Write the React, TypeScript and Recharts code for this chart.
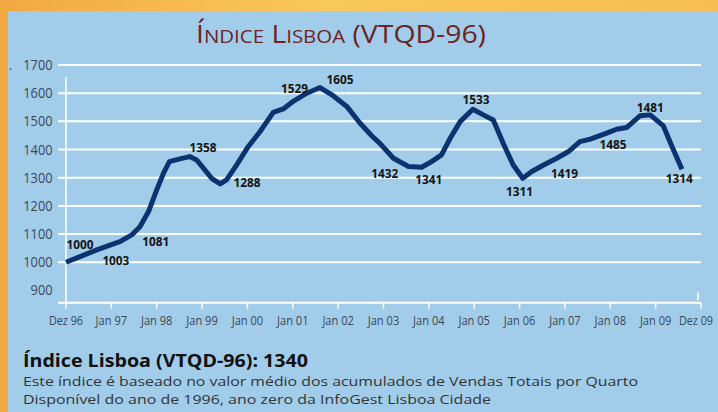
import React from "react";
import {
  ComposedChart,
  Line,
  Scatter,
  XAxis,
  YAxis,
  ReferenceLine,
} from "recharts";

// Time in years since Dez 96 (axis positions of the curve's vertices)
const period = [
  0, 0.31, 0.68, 0.97, 1.19, 1.45, 1.63, 1.82, 2.0, 2.15, 2.28, 2.51, 2.73,
  2.88, 3.03, 3.21, 3.4, 3.54, 3.76, 4.02, 4.28, 4.57, 4.79, 5.01, 5.31, 5.6,
  5.89, 6.19, 6.48, 6.74, 6.92, 7.22, 7.55, 7.84, 8.06, 8.28, 8.47, 8.69, 8.97,
  9.2, 9.42, 9.64, 9.86, 10.07, 10.27, 10.53, 10.82, 11.08, 11.33, 11.56,
  11.92, 12.14, 12.36, 12.66, 12.88, 13.17, 13.36, 13.58,
];
const indexValue = [
  1000, 1020, 1044, 1061, 1073, 1097, 1126, 1180, 1257, 1316, 1357, 1367, 1375,
  1363, 1334, 1298, 1278, 1292, 1345, 1411, 1464, 1532, 1544, 1571, 1600, 1620,
  1591, 1553, 1494, 1449, 1422, 1369, 1340, 1337, 1357, 1381, 1440, 1499, 1543,
  1523, 1505, 1422, 1345, 1298, 1322, 1345, 1369, 1393, 1428, 1437, 1458, 1472,
  1478, 1520, 1523, 1484, 1411, 1330,
];

// Annotated yearly values, with the point (period, level) where each label sits
const labelText = [
  "1000", "1003", "1081", "1358", "1288", "1529", "1605", "1432", "1341",
  "1533", "1311", "1419", "1485", "1481", "1314",
];
const labelPeriod = [
  0.31, 1.1, 1.98, 3.02, 3.99, 5.04, 6.04, 7.03, 8.0, 9.04, 10.0, 10.99, 12.06,
  12.88, 13.52,
];
const labelLevel = [
  1065, 1008, 1076, 1410, 1286, 1620, 1651, 1318, 1295, 1579, 1254, 1316, 1419,
  1550, 1298,
];

const xTickLabels = [
  "Dez 96", "Jan 97", "Jan 98", "Jan 99", "Jan 00", "Jan 01", "Jan 02",
  "Jan 03", "Jan 04", "Jan 05", "Jan 06", "Jan 07", "Jan 08", "Jan 09", "Dez 09",
];
const xTicks = xTickLabels.map((_, i) => i);
const yTicks = [900, 1000, 1100, 1200, 1300, 1400, 1500, 1600, 1700];
const gridValues = [1000, 1100, 1200, 1300, 1400, 1500, 1600, 1700];

const lineData = period.map((t, i) => ({ t, v: indexValue[i] }));
const labelData = labelPeriod.map((t, i) => ({
  t,
  v: labelLevel[i],
  text: labelText[i],
}));

const FONT = "'Open Sans', 'Noto Sans', sans-serif";
const TICK_COLOR = "#3b4756";

const LabelShape = (props: any) => {
  const { cx, cy, payload } = props;
  return (
    <text
      x={cx}
      y={cy}
      textAnchor="middle"
      dominantBaseline="central"
      fontFamily={FONT}
      fontSize={13}
      fontWeight={700}
      fill="#141414"
      textLength={27}
      lengthAdjust="spacingAndGlyphs"
    >
      {payload.text}
    </text>
  );
};

const XTick = (props: any) => {
  const { x, y, payload } = props;
  const idx = payload.value;
  const label = xTickLabels[idx] ?? "";
  const isLast = idx === xTickLabels.length - 1;
  const w = label.startsWith("Dez") ? 34 : 31.5;
  return (
    <text
      x={isLast ? x + 12 : x}
      y={y}
      dy={9.5}
      textAnchor={isLast ? "end" : "middle"}
      fontFamily={FONT}
      fontSize={13}
      fill={TICK_COLOR}
      textLength={w}
      lengthAdjust="spacingAndGlyphs"
    >
      {label}
    </text>
  );
};

const YTick = (props: any) => {
  const { x, y, payload } = props;
  const label = String(payload.value);
  return (
    <text
      x={x - 0.5}
      y={y}
      dy={5}
      textAnchor="end"
      fontFamily={FONT}
      fontSize={14.5}
      fill={TICK_COLOR}
      textLength={label.length * 7.3}
      lengthAdjust="spacingAndGlyphs"
    >
      {label}
    </text>
  );
};

export default function App() {
  return (
    <div
      style={{
        position: "fixed",
        left: 0,
        top: 0,
        width: 718,
        height: 412,
        overflow: "hidden",
      }}
    >
      <svg
        width={718}
        height={412}
        style={{ position: "absolute", left: 0, top: 0 }}
      >
        <defs>
          <linearGradient id="org" x1="0" y1="0" x2="1" y2="0">
            <stop offset="0%" stopColor="#f2a843" />
            <stop offset="45%" stopColor="#f8c95b" />
            <stop offset="100%" stopColor="#f6be52" />
          </linearGradient>
        </defs>
        <rect x={0} y={0} width={718} height={412} fill="url(#org)" />
        <rect x={8} y={11} width={710} height={401} fill="#a2cdea" />
        <text
          x={341}
          y={42.5}
          textAnchor="middle"
          fontFamily={FONT}
          fontSize={25}
          fill="#6c2323"
          textLength={290}
          lengthAdjust="spacingAndGlyphs"
          style={{ fontVariant: "small-caps" }}
        >
          Índice Lisboa (VTQD-96)
        </text>
        <text x={9} y={70} fontFamily={FONT} fontSize={12} fill="#333">
          .
        </text>
        <line x1={698} y1={292.5} x2={698} y2={300} stroke="#ffffff" strokeWidth={1.5} />
        <text
          x={23}
          y={366.5}
          fontFamily={FONT}
          fontSize={17}
          fontWeight={700}
          fill="#111"
          textLength={285}
          lengthAdjust="spacingAndGlyphs"
        >
          Índice Lisboa (VTQD-96): 1340
        </text>
        <text
          x={23}
          y={385.5}
          fontFamily={FONT}
          fontSize={13.5}
          fill="#333"
          textLength={615}
          lengthAdjust="spacingAndGlyphs"
        >
          Este índice é baseado no valor médio dos acumulados de Vendas Totais por Quarto
        </text>
        <text
          x={23}
          y={403.5}
          fontFamily={FONT}
          fontSize={13.5}
          fill="#333"
          textLength={468}
          lengthAdjust="spacingAndGlyphs"
        >
          Disponível do ano de 1996, ano zero da InfoGest Lisboa Cidade
        </text>
      </svg>
      <div style={{ position: "absolute", left: 0, top: 0 }}>
        <ComposedChart
          width={718}
          height={412}
          margin={{ top: 65, right: 17, bottom: 79.3, left: 0 }}
        >
          <XAxis
            dataKey="t"
            type="number"
            domain={[-0.176, 14]}
            allowDataOverflow
            ticks={xTicks}
            interval={0}
            height={30}
            axisLine={{ stroke: "#ffffff", strokeWidth: 2 }}
            tickLine={{ stroke: "#ffffff", strokeWidth: 1.5 }}
            tickSize={6}
            tickMargin={7}
            tick={<XTick />}
          />
          <YAxis
            type="number"
            domain={[856.5, 1700]}
            allowDataOverflow
            ticks={yTicks}
            interval={0}
            width={58}
            axisLine={false}
            tickLine={false}
            tickSize={0}
            tickMargin={5}
            tick={<YTick />}
          />
          {gridValues.map((g) => (
            <ReferenceLine
              key={g}
              y={g}
              stroke="#ffffff"
              strokeWidth={2}
            />
          ))}
          <ReferenceLine
            segment={[
              { x: 0, y: 1657 },
              { x: 0, y: 856.5 },
            ]}
            stroke="#ffffff"
            strokeWidth={1.5}
          />
          <Line
            data={lineData}
            dataKey="v"
            type="linear"
            stroke="#0c3370"
            strokeWidth={5}
            strokeLinejoin="round"
            dot={false}
            activeDot={false}
            isAnimationActive={false}
          />
          <Scatter
            data={labelData}
            dataKey="v"
            shape={LabelShape}
            isAnimationActive={false}
          />
        </ComposedChart>
      </div>
    </div>
  );
}
